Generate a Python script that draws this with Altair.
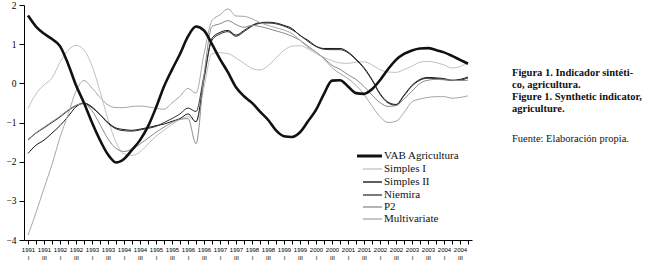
import json
import altair as alt
import pandas as pd

# ---- data (quarterly, 1991 I .. 2004 IV) ----
years = [str(y) for y in range(1991, 2005)]
quarters = ["I", "II", "III", "IV"]
series_names = ["VAB Agricultura", "Simples I", "Simples II", "Niemira", "P2", "Multivariate"]
series_colors = ["#111111", "#c2c2c2", "#1a1a1a", "#333333", "#8c8c8c", "#a8a8a8"]
series_widths = [2.6, 1.0, 1.1, 1.0, 1.0, 1.0]

vab = [1.73, 1.45, 1.27, 1.13, 0.95, 0.5, -0.05, -0.5, -1.0, -1.45,
       -1.82, -2.02, -1.93, -1.7, -1.45, -1.1, -0.62, -0.08, 0.35, 0.75,
       1.2, 1.45, 1.35, 1.0, 0.62, 0.28, -0.1, -0.33, -0.5, -0.72,
       -0.93, -1.2, -1.35, -1.37, -1.25, -0.97, -0.68, -0.27, 0.07, 0.08,
       -0.08, -0.25, -0.27, -0.15, 0.08, 0.36, 0.6, 0.75, 0.84, 0.89,
       0.9, 0.85, 0.79, 0.7, 0.6, 0.5]
simples_i = [-0.64, -0.27, -0.04, 0.13, 0.54, 0.84, 0.97, 0.85, 0.45, -0.2,
             -0.92, -1.5, -1.8, -1.84, -1.75, -1.55, -1.35, -1.2, -1.05, -0.92,
             -0.85, -0.98, -0.1, 0.76, 0.78, 0.76, 0.65, 0.51, 0.38, 0.34,
             0.45, 0.65, 0.84, 0.95, 0.96, 0.88, 0.76, 0.66, 0.58, 0.52,
             0.51, 0.54, 0.55, 0.47, 0.35, 0.29, 0.28, 0.35, 0.44, 0.54,
             0.56, 0.53, 0.47, 0.39, 0.43, 0.54]
simples_ii = [-1.79, -1.58, -1.45, -1.27, -1.08, -0.85, -0.6, -0.51, -0.62, -0.8,
              -1.0, -1.14, -1.18, -1.2, -1.17, -1.13, -1.08, -1.04, -0.97, -0.9,
              -0.78, -0.98, 0.1, 1.15, 1.3, 1.35, 1.23, 1.35, 1.48, 1.55,
              1.56, 1.54, 1.48, 1.4, 1.22, 1.1, 0.95, 0.89, 0.89, 0.89,
              0.8, 0.62, 0.4, 0.1, -0.26, -0.48, -0.54, -0.3, -0.05, 0.1,
              0.15, 0.14, 0.12, 0.08, 0.1, 0.16]
niemira = [-1.45, -1.27, -1.14, -1.0, -0.86, -0.7, -0.57, -0.5, -0.6, -0.8,
           -1.02, -1.16, -1.21, -1.22, -1.19, -1.15, -1.1, -1.0, -0.9, -0.78,
           -0.63, -0.72, 0.2, 1.1, 1.26, 1.32, 1.2, 1.32, 1.46, 1.53,
           1.54, 1.52, 1.46, 1.37, 1.23, 1.07, 0.94, 0.87, 0.86, 0.86,
           0.78, 0.6, 0.38, 0.08, -0.28, -0.5, -0.56, -0.32, -0.07, 0.08,
           0.13, 0.12, 0.1, 0.07, 0.08, 0.14]
p2 = [-1.43, -1.26, -1.12, -0.98, -0.84, -0.68, -0.56, -0.52, -0.7, -1.05,
      -1.42, -1.66, -1.74, -1.68, -1.55, -1.4, -1.25, -1.12, -1.0, -0.92,
      -0.9, -1.54, 0.2, 1.45, 1.52, 1.6, 1.5, 1.43, 1.48, 1.45,
      1.4, 1.34, 1.28, 1.2, 1.1, 0.95, 0.8, 0.64, 0.46, 0.36,
      0.22, 0.1, -0.08, -0.3, -0.49, -0.59, -0.57, -0.4, -0.2, 0.0,
      0.08, 0.1, 0.09, 0.08, 0.07, 0.08]
multivariate = [-3.88, -3.3, -2.68, -2.07, -1.38, -0.8, -0.2, 0.07, -0.12, -0.36,
                -0.55, -0.62, -0.62, -0.59, -0.58, -0.6, -0.64, -0.66, -0.5, -0.33,
                -0.13, -0.25, 0.75, 1.6, 1.75, 1.9, 1.72, 1.71, 1.65, 1.55,
                1.48, 1.42, 1.36, 1.27, 1.1, 0.92, 0.8, 0.62, 0.4, 0.25,
                0.12, -0.05, -0.28, -0.58, -0.85, -1.0, -0.97, -0.75, -0.47, -0.4,
                -0.36, -0.34, -0.34, -0.38, -0.36, -0.32]

caption_bold = ["Figura 1. Indicador sintéti-", "co, agricultura.",
                "Figure 1. Synthetic indicator,", "agriculture."]
caption_source = "Fuente: Elaboración propia."

all_series = [vab, simples_i, simples_ii, niemira, p2, multivariate]
rows = []
for name, vals in zip(series_names, all_series):
    for i, v in enumerate(vals):
        rows.append({"t": i, "v": v, "series": name})
df = pd.DataFrame(rows)
n = len(vab)

label_expr = (
    f"datum.value % 2 == 0 ? [{json.dumps(years)}[floor(datum.value / 4)], "
    f"{json.dumps(quarters)}[datum.value % 4]] : ''"
)

x_enc = alt.X(
    "t:Q",
    scale=alt.Scale(domain=[-0.5, n - 0.5], nice=False, zero=False),
    axis=alt.Axis(
        values=list(range(n)), title=None, grid=False, tickSize=4,
        labelExpr=label_expr, labelFont="Liberation Sans", labelFontSize=6,
        labelLineHeight=8, labelPadding=2, labelOverlap=False, labelAngle=0,
        labelColor="black", domainColor="black", tickColor="black",
    ),
)
y_enc = alt.Y(
    "v:Q",
    scale=alt.Scale(domain=[-4, 2], nice=False, zero=False),
    axis=alt.Axis(
        values=[-4, -3, -2, -1, 0, 1, 2], format="d", title=None, grid=False,
        tickSize=5, labelFont="Liberation Serif", labelFontSize=9.5,
        labelPadding=3, labelColor="black", domainColor="black", tickColor="black",
    ),
)

thin_names = series_names[1:]
thin = alt.Chart(df[df.series != series_names[0]]).mark_line(
    interpolate="monotone", strokeWidth=1.0
).encode(
    x=x_enc, y=y_enc,
    color=alt.Color("series:N", scale=alt.Scale(domain=thin_names, range=series_colors[1:]), legend=None),
)
thick = alt.Chart(df[df.series == series_names[0]]).mark_line(
    interpolate="monotone", strokeWidth=series_widths[0], color=series_colors[0]
).encode(x=x_enc, y=y_enc)

one = alt.Data(values=[{"k": 1}])
layers = [thin, thick]

# custom legend
leg_y = [151, 164, 177, 190, 202, 214]
for k, name in enumerate(series_names):
    x0 = 333 if k == 0 else 339
    layers.append(
        alt.Chart(one).mark_rule(color=series_colors[k], strokeWidth=series_widths[k] + (0.3 if k else 0.4)).encode(
            x=alt.value(x0), x2=alt.value(358), y=alt.value(leg_y[k])
        )
    )
    layers.append(
        alt.Chart(one).mark_text(align="left", baseline="middle", font="Liberation Serif",
                                 fontSize=11, color="#111").encode(
            x=alt.value(360), y=alt.value(leg_y[k]), text=alt.value(name)
        )
    )

# caption
cap_y = [68, 80, 92, 104]
for k, line in enumerate(caption_bold):
    layers.append(
        alt.Chart(one).mark_text(align="left", baseline="middle", font="Liberation Serif",
                                 fontSize=10.5, fontWeight="bold", color="#111").encode(
            x=alt.value(488), y=alt.value(cap_y[k]), text=alt.value(line)
        )
    )
layers.append(
    alt.Chart(one).mark_text(align="left", baseline="middle", font="Liberation Serif",
                             fontSize=10.5, color="#111").encode(
        x=alt.value(488), y=alt.value(134), text=alt.value(caption_source)
    )
)

chart = alt.layer(*layers).properties(
    width=448, height=235,
    padding={"left": 24, "top": 5, "right": 175, "bottom": 25},
    autosize=alt.AutoSizeParams(type="none"),
    background="white",
).configure_view(stroke=None)

chart.save("out.html", embed_options={"renderer": "svg", "actions": False})
